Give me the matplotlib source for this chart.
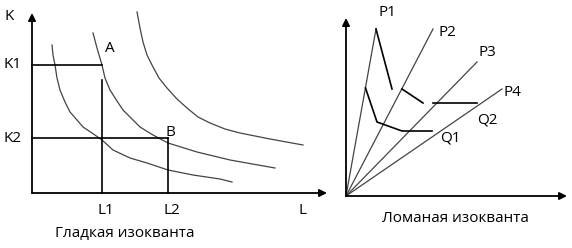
import matplotlib
matplotlib.use('Agg')
import matplotlib.pyplot as plt

plt.rcParams['font.family'] = ['Open Sans', 'DejaVu Sans']

# Smooth isoquants (L, K), units
curve1_L = [2.0, 2.1, 2.3, 2.5, 2.8, 3.3, 3.8, 4.5, 5.1, 6.0, 7.0, 8.1, 9.8, 11.5, 13.6, 16.1, 18.8, 20.0]
curve1_K = [14.8, 13.8, 12.8, 11.5, 10.3, 9.1, 8.1, 7.3, 6.6, 6.0, 5.3, 4.3, 3.5, 3.0, 2.3, 1.8, 1.4, 1.1]
curve2_L = [6.1, 6.5, 7.0, 7.3, 7.8, 8.5, 9.1, 10.0, 10.8, 12.1, 13.6, 16.5, 19.8, 24.3]
curve2_K = [16.0, 14.5, 12.8, 11.5, 10.3, 9.2, 8.3, 7.4, 6.6, 5.8, 5.0, 4.1, 3.3, 2.5]
curve3_L = [10.5, 10.8, 11.1, 11.5, 12.1, 12.7, 13.5, 14.5, 15.5, 16.6, 17.8, 19.3, 20.8, 23.8, 27.1]
curve3_K = [18.1, 16.5, 15.1, 13.8, 12.6, 11.5, 10.5, 9.4, 8.5, 7.6, 7.0, 6.4, 6.0, 5.4, 4.8]
L_ticks = {'L1': 7.0, 'L2': 13.6}
K_ticks = {'K1': 12.8, 'K2': 5.5}
L1_top = 11.3

# Broken isoquant: process rays and kinked segments
ray_names = ['P1', 'P2', 'P3', 'P4']
ray_x = [3.0, 8.7, 13.1, 15.6]
ray_y = [16.7, 16.7, 13.4, 10.7]
ray_label_pos = [(4.1, 18.4), (10.1, 16.4), (14.1, 14.3), (16.6, 10.3)]
q1_x = [1.95, 3.1, 5.6, 8.6]
q1_y = [10.8, 7.4, 6.5, 6.5]
q2_pieces = [([3.0, 4.6], [16.7, 10.7]),
             ([5.6, 7.7], [10.7, 9.3]),
             ([8.7, 13.1], [9.3, 9.3])]

fig = plt.figure(figsize=(5.72, 2.48), dpi=100)
fs = 11

# ---- left panel: smooth isoquant
ax = fig.add_axes([0, 0, 340 / 572, 1])
ax.set_xlim(-3.2, 30.8)
ax.set_ylim(-5.5, 19.3)
ax.axis('off')

arrow = dict(arrowstyle='-|>', mutation_scale=11, lw=1.3, color='black', shrinkA=0, shrinkB=0)
ax.annotate('', xy=(0, 18.0), xytext=(0, 0), arrowprops=arrow)
ax.annotate('', xy=(29.5, 0), xytext=(0, 0), arrowprops=arrow)

for xs, ys in [(curve1_L, curve1_K), (curve2_L, curve2_K), (curve3_L, curve3_K)]:
    ax.plot(xs, ys, color='#444444', lw=0.9, solid_joinstyle='round')

ax.plot([0, L_ticks['L1']], [K_ticks['K1']] * 2, color='black', lw=1.2)
ax.plot([L_ticks['L1']] * 2, [0, L1_top], color='black', lw=1.2)
ax.plot([0, L_ticks['L2']], [K_ticks['K2']] * 2, color='black', lw=1.2)
ax.plot([L_ticks['L2']] * 2, [0, K_ticks['K2']], color='black', lw=1.2)

ax.text(-2.3, 17.7, 'K', fontsize=fs, ha='center', va='center')
for name, v in K_ticks.items():
    ax.text(-1.9, v, name, fontsize=fs, ha='center', va='center')
for name, v in L_ticks.items():
    ax.text(v + 0.4, -1.8, name, fontsize=fs, ha='center', va='center')
ax.text(27.0, -1.7, 'L', fontsize=fs, ha='center', va='center')
ax.text(7.8, 14.4, 'A', fontsize=fs, ha='center', va='center')
ax.text(13.8, 6.0, 'B', fontsize=fs, ha='center', va='center')
ax.text(9.3, -4.0, 'Гладкая изокванта', fontsize=fs, ha='center', va='center')

# ---- right panel: broken isoquant
bx = fig.add_axes([340 / 572, 0, 232 / 572, 1])
bx.set_xlim(-0.6, 22.6)
bx.set_ylim(-5.2, 19.6)
bx.axis('off')

bx.annotate('', xy=(0, 17.8), xytext=(0, 0), arrowprops=arrow)
bx.annotate('', xy=(22.1, 0), xytext=(0, 0), arrowprops=arrow)

for name, x, y, pos in zip(ray_names, ray_x, ray_y, ray_label_pos):
    bx.plot([0, x], [0, y], color='#444444', lw=0.9)
    bx.text(pos[0], pos[1], name, fontsize=fs, ha='center', va='center')

bx.plot(q1_x, q1_y, color='black', lw=1.2)
for xs, ys in q2_pieces:
    bx.plot(xs, ys, color='black', lw=1.2)

bx.text(10.4, 5.8, 'Q1', fontsize=fs, ha='center', va='center')
bx.text(14.1, 7.6, 'Q2', fontsize=fs, ha='center', va='center')
bx.text(10.9, -2.2, 'Ломаная изокванта', fontsize=fs, ha='center', va='center')

fig.savefig('out.png', dpi=100)
